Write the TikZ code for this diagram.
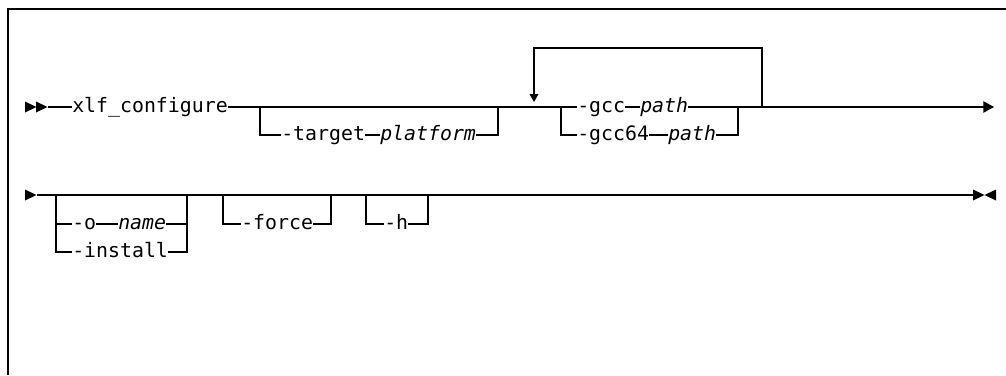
\documentclass[tikz,border=0pt]{standalone}
\usepackage{fontspec}
\setmonofont{DejaVu Sans Mono}
\usetikzlibrary{arrows.meta}
\tikzset{
  rail/.style={line width=1pt},
  kw/.style={font=\ttfamily\fontsize{14.9pt}{17pt}\selectfont, inner sep=0pt, anchor=west, text height=10pt, text depth=1.9pt},
  var/.style={kw, font=\ttfamily\itshape\fontsize{14.9pt}{17pt}\selectfont},
}

\begin{document}
\begin{tikzpicture}[x=0.75pt,y=-0.75pt]
	\useasboundingbox (0,0) rectangle (1006,375);
	\draw[line width=1.1pt] (1006,9) -- (8,9) -- (8,375);

	% first line
	\foreach \x in {25,36} \fill (\x,101.5) -- ++(11.5,5.5) -- ++(-11.5,5.5) -- cycle;
	\coordinate (s1) at (48,107);
	\node[kw] (cmd) at (72,107) {xlf\_configure};
	\coordinate (t1) at (260,107);
	\coordinate (t2) at (498,107);
	\node[kw] (tgt) at (281,135) {-target};
	\node[var] (plat) at (380,135) {platform};
	\coordinate (g1) at (561,107);
	\node[kw] (gcc) at (577,107) {-gcc};
	\node[var] (p1) at (640,107) {path};
	\node[kw] (gcc64) at (577,135) {-gcc64};
	\node[var] (p2) at (668,135) {path};
	\coordinate (g2) at (738,107);
	\coordinate (rep) at (762,107);
	\coordinate (looptop) at (762,48);
	\coordinate (loopin) at (534,102);
	\coordinate (e1) at (994,107);

	\draw[rail] (s1) -- (cmd.west) (cmd.east) -- (t1) -- (t2) -- (g1) -- (gcc.west)
		(gcc.east) -- (p1.west) (p1.east) -- (g2) -- (rep);
	\draw[rail] (t1) |- (tgt.west) (tgt.east) -- (plat.west) (plat.east) -| (t2);
	\draw[rail] (g1) |- (gcc64.west) (gcc64.east) -- (p2.west) (p2.east) -| (g2);
	\draw[rail,-{Triangle[length=6pt,width=6.5pt]}] (rep) -- (looptop) -| (loopin);
	\draw[rail,-{Triangle[length=8pt,width=8.5pt]}] (rep) -- (e1);

	% second line
	\fill (25,189.5) -- ++(11.5,5.5) -- ++(-11.5,5.5) -- cycle;
	\coordinate (s2) at (37,195);
	\coordinate (a1) at (56,195);
	\coordinate (a2) at (187,195);
	\node[kw] (oopt) at (72,224) {-o};
	\node[var] (nm) at (118,224) {name};
	\node[kw] (inst) at (72,252) {-install};
	\coordinate (f1) at (223,195);
	\coordinate (f2) at (331,195);
	\node[kw] (frc) at (241,224) {-force};
	\coordinate (h1) at (366,195);
	\coordinate (h2) at (428,195);
	\node[kw] (hlp) at (384,224) {-h};
	\coordinate (e2) at (973,195);

	\draw[rail] (s2) -- (e2);
	\draw[rail] (a1) |- (inst.west) (a1 |- oopt.west) -- (oopt.west)
		(oopt.east) -- (nm.west) (nm.east) -| (a2) (inst.east) -| (a2);
	\draw[rail] (f1) |- (frc.west) (frc.east) -| (f2);
	\draw[rail] (h1) |- (hlp.west) (hlp.east) -| (h2);
	\fill (973,189.5) -- (984.5,195) -- (973,200.5) -- cycle;
	\fill (996,189.5) -- (984.5,195) -- (996,200.5) -- cycle;
\end{tikzpicture}
\end{document}
